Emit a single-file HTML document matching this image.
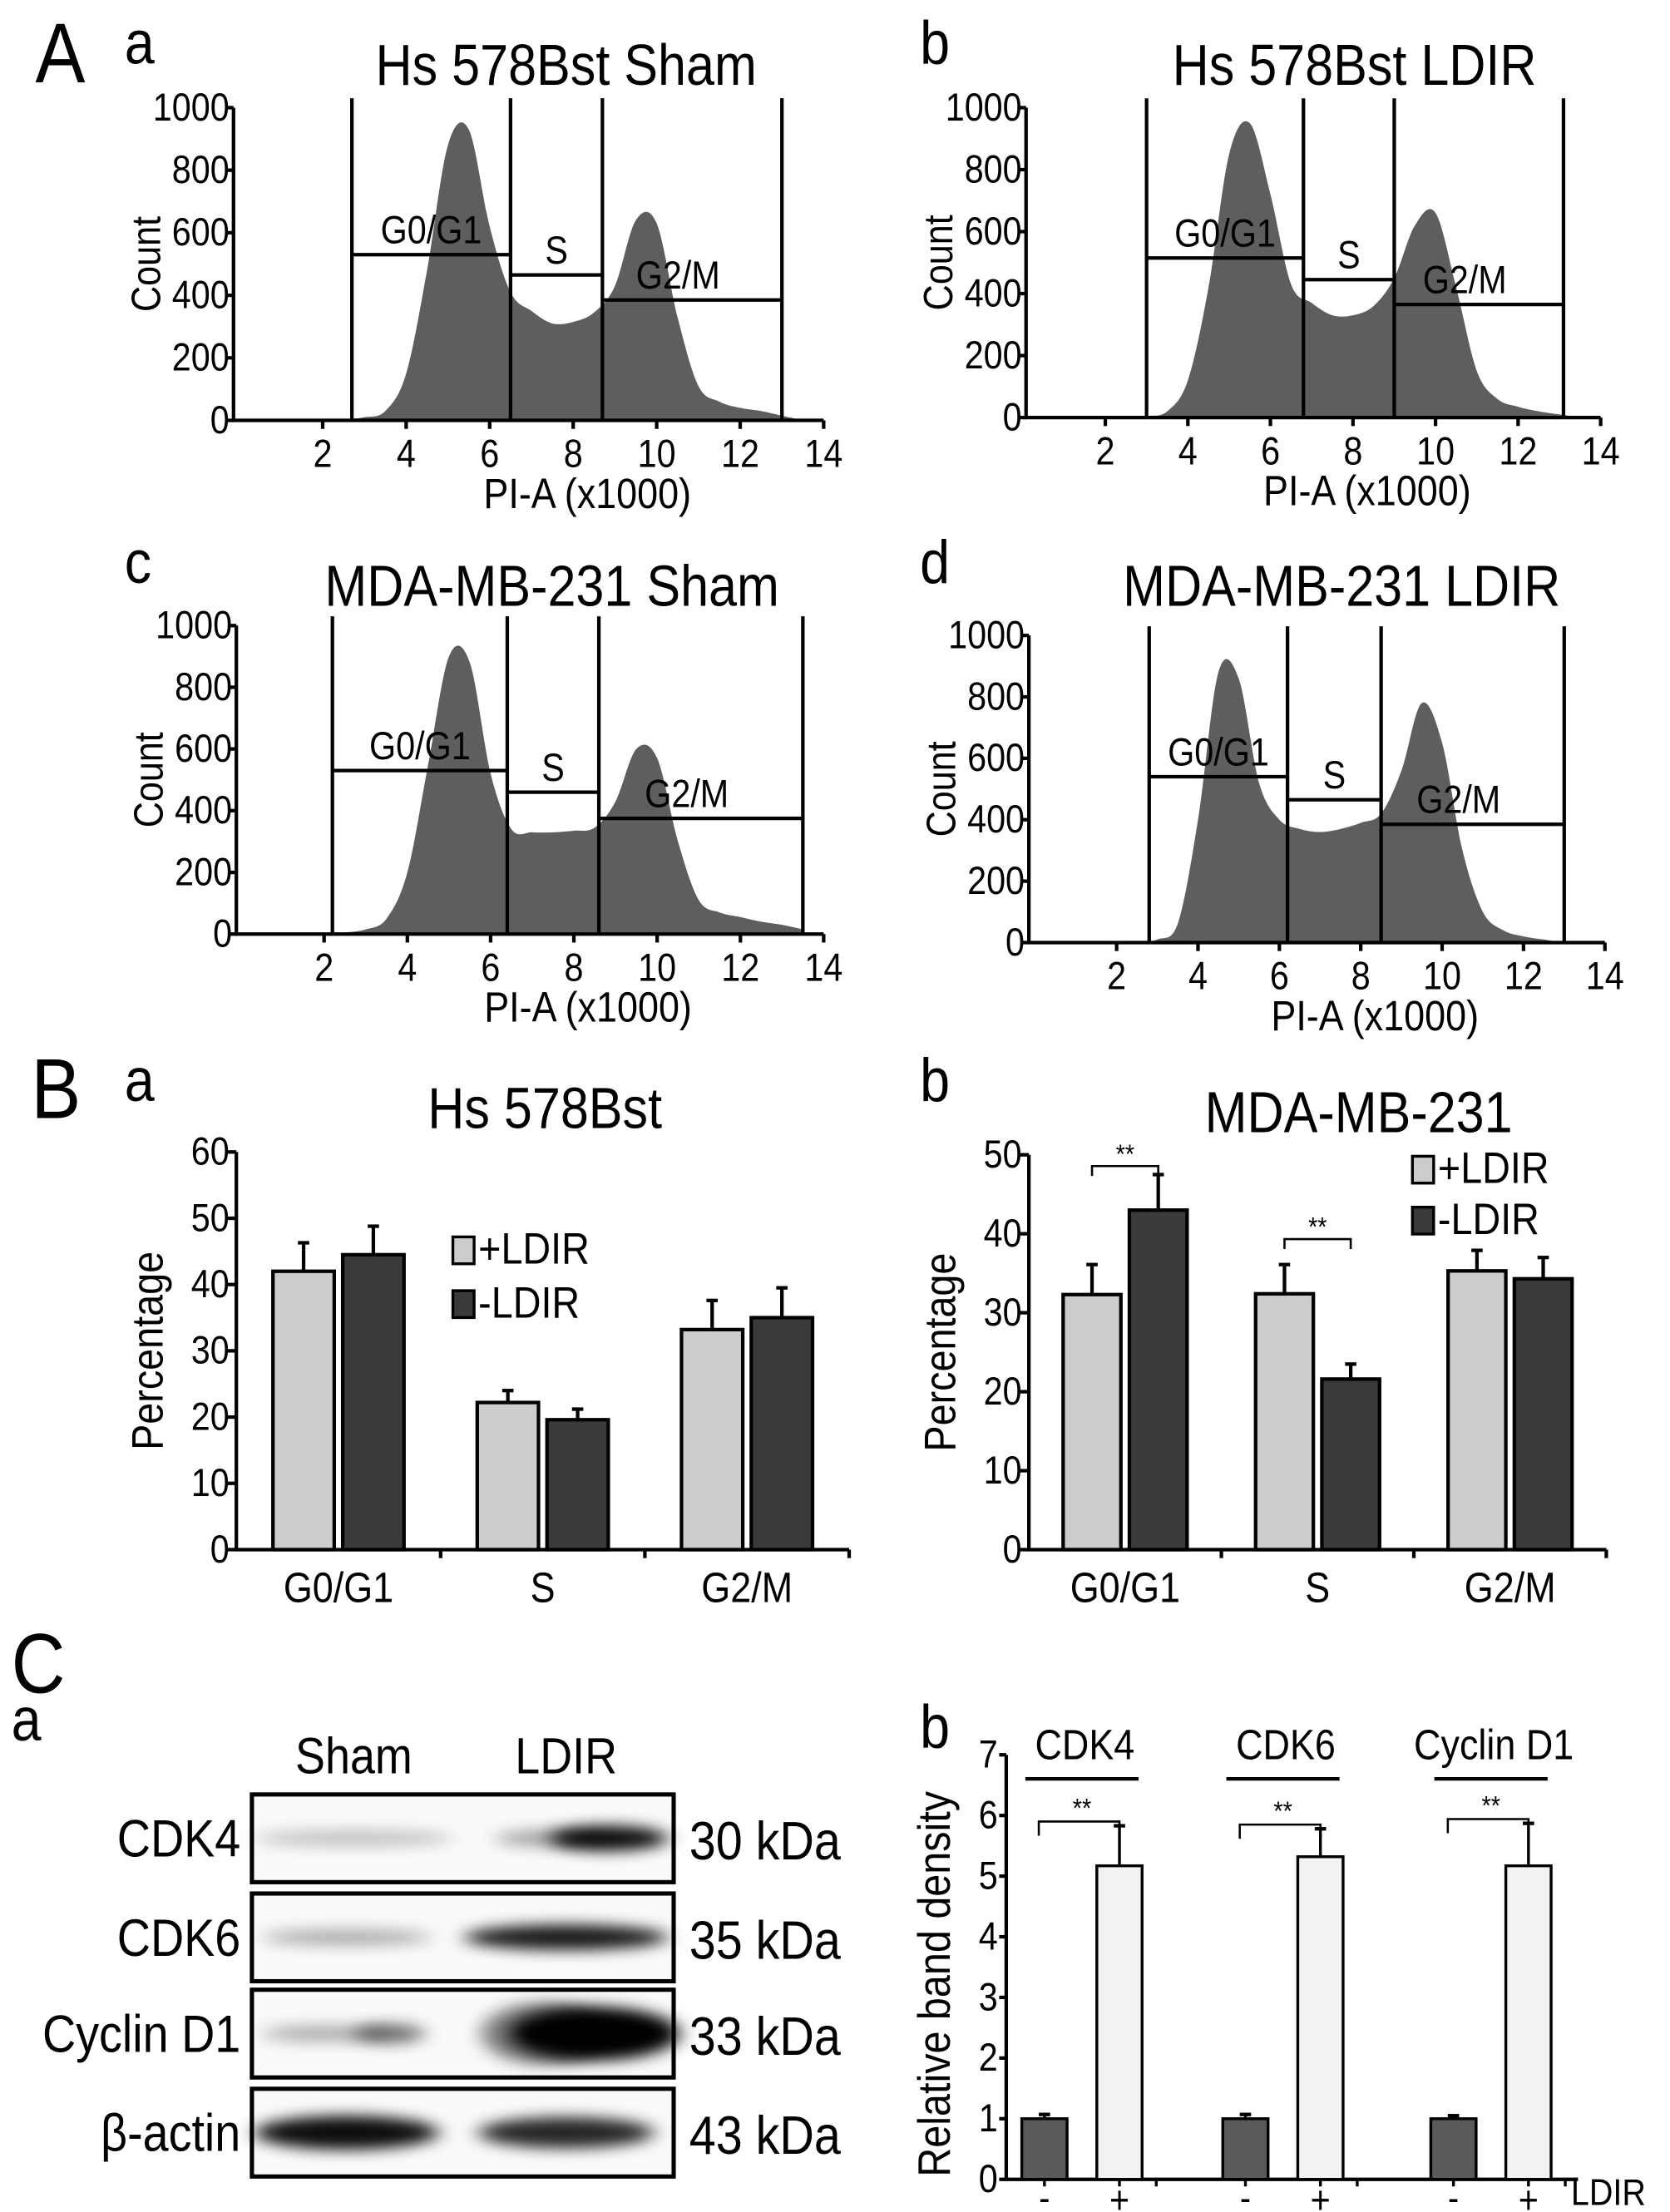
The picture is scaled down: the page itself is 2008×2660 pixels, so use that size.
<!DOCTYPE html>
<html><head><meta charset="utf-8"><style>
html,body{margin:0;padding:0;background:#fff}
svg{display:block}
text{font-family:"Liberation Sans",Arial,sans-serif;fill:#000}
</style></head><body>
<svg id="fig" width="2008" height="2660" viewBox="0 0 1180 1563" xmlns="http://www.w3.org/2000/svg">
<defs>
<filter id="blur" x="-30%" y="-100%" width="160%" height="300%"><feGaussianBlur stdDeviation="7 5"/></filter>
</defs>
<g id="root"></g>
</svg>
<script>
// ---------- Histogram data (PI-A x1000 vs Count) ----------
const piA = [2.5,3,3.5,4,4.5,5,5.5,6,6.5,7,7.5,8,8.5,9,9.5,10,10.5,11,11.5,12,12.5,13,13.5];
const countsHsSham  = [3,10,30,150,480,880,930,620,410,350,310,315,345,430,640,630,330,110,60,40,30,15,0];
const countsHsLdir  = [0,5,20,120,420,850,950,720,430,370,330,330,360,450,620,660,420,150,60,35,20,10,0];
const countsMdaSham = [5,15,50,200,550,900,880,520,340,330,330,335,345,430,600,570,300,110,70,55,40,30,15];
const countsMdaLdir = [0,10,60,400,880,860,520,400,370,360,370,390,420,560,780,650,300,100,40,20,10,0,0];
const histYTicks = [0,200,400,600,800,1000];
const histXTicks = [2,4,6,8,10,12,14];
const gatesHsSham = [2.7,6.5,8.7,13.0]; const gateLevelsHsSham=[530,465,385];
const gatesHsLdir = [3.0,6.8,9.0,13.1]; const gateLevelsHsLdir=[515,445,365];
const gatesMdaSham= [2.2,6.4,8.6,13.5]; const gateLevelsMdaSham=[530,460,375];
const gatesMdaLdir= [2.8,6.2,8.5,13.0]; const gateLevelsMdaLdir=[540,465,385];

// ---------- Bar chart B data ----------
const phases = ["G0/G1","S","G2/M"];
const hsPlus  = [42.0,22.2,33.2]; const hsPlusErr  = [4.3,1.8,4.4];
const hsMinus = [44.5,19.6,35.0]; const hsMinusErr = [4.3,1.6,4.5];
const hsTicks = [0,10,20,30,40,50,60];
const mdaPlus  = [32.3,32.4,35.3]; const mdaPlusErr  = [3.8,3.7,2.6];
const mdaMinus = [43.0,21.6,34.3]; const mdaMinusErr = [4.5,1.9,2.7];
const mdaTicks = [0,10,20,30,40,50];

// ---------- Band density data ----------
const proteins = ["CDK4","CDK6","Cyclin D1"];
const densMinus = [1.0,1.0,1.0]; const densMinusErr=[0.07,0.07,0.05];
const densPlus  = [5.17,5.32,5.17]; const densPlusErr=[0.66,0.46,0.70];
const densTicks = [0,1,2,3,4,5,6,7];

const NS="http://www.w3.org/2000/svg";
const root=document.getElementById('root');
const FS=1.2, SX=0.88;
function el(tag,attrs,parent){const e=document.createElementNS(NS,tag);for(const k in attrs)e.setAttribute(k,attrs[k]);(parent||root).appendChild(e);return e;}
function txt(s,x,y,size,anchor,parent,extra){
  let tr=`translate(${x},${y}) scale(${SX},1)`;
  if(extra&&extra.rot){tr=`translate(${x},${y}) rotate(-90) scale(${SX},1)`;}
  const t=el('text',{x:0,y:0,'font-size':size*FS,'text-anchor':anchor||'start',transform:tr},parent);t.textContent=s;return t;}

function histPanel(cfg){
  const g=el('g',{});
  
  
  const sx=v=>cfg.x0+(v-2)*(cfg.x14-cfg.x0)/12;
  const sy=v=>cfg.y0-v*(cfg.y0-cfg.y1000)/1000;
  const xs=piA, ys=cfg.counts;
  const P=xs.map((x,i)=>[sx(x),sy(ys[i])]);
  let d='M'+sx(Math.min(xs[0],cfg.gates[0]))+','+sy(0)+' L'+P[0][0]+','+P[0][1];
  for(let i=0;i<P.length-1;i++){
    const p0=P[i-1]||P[i],p1=P[i],p2=P[i+1],p3=P[i+2]||P[i+1];
    const c1=[p1[0]+(p2[0]-p0[0])/6,p1[1]+(p2[1]-p0[1])/6];
    const c2=[p2[0]-(p3[0]-p1[0])/6,p2[1]-(p3[1]-p1[1])/6];
    d+=' C'+c1[0]+','+Math.min(c1[1],sy(0))+' '+c2[0]+','+Math.min(c2[1],sy(0))+' '+p2[0]+','+p2[1];
  }
  d+=' L'+P[P.length-1][0]+','+sy(0)+' Z';
  const area=el('path',{d:d,fill:'#5e5e5e'},g);
  
  
  const ax=el('path',{d:`M${cfg.yx},${sy(1000)} L${cfg.yx},${sy(0)} L${sx(14)},${sy(0)}`,fill:'none',stroke:'#000','stroke-width':2.5},g);
  
  
  histYTicks.forEach(v=>{el('line',{x1:cfg.yx-5,x2:cfg.yx,y1:sy(v),y2:sy(v),stroke:'#000','stroke-width':2.5},g);
    const t=txt(String(v),cfg.yx-3,sy(v)+9,23,'end',g);});
  histXTicks.forEach(v=>{el('line',{x1:sx(v),x2:sx(v),y1:sy(0),y2:sy(0)+6,stroke:'#000','stroke-width':2.5},g);
    const t=txt(String(v),sx(v),sy(0)+33,23,'middle',g);});
  cfg.gates.forEach(v=>{const l=el('line',{x1:sx(v),x2:sx(v),y1:sy(1030),y2:sy(0),stroke:'#000','stroke-width':2.5},g);
    });
  cfg.levels.forEach((lv,i)=>{const l=el('line',{x1:sx(cfg.gates[i]),x2:sx(cfg.gates[i+1]),y1:sy(lv),y2:sy(lv),stroke:'#000','stroke-width':2.5},g);
    });
  const labs=['G0/G1','S','G2/M'];
  labs.forEach((s,i)=>{const cx=i==2?(sx(cfg.gates[2])+sx(cfg.gates[3]))/2-10:(sx(cfg.gates[i])+sx(cfg.gates[i+1]))/2;
    const t=txt(s,cx,sy(cfg.levels[i])-8,23,'middle',g);});
  const tt=txt(cfg.title,cfg.tx,cfg.ty,34,'middle',g);
  const xl=txt('PI-A (x1000)',(sx(2)+sx(14))/2+10,sy(0)+62,25,'middle',g);
  const yl=txt('Count',cfg.yx-52,(sy(0)+sy(1000))/2,24,'middle',g,{rot:1});
  const pl=txt(cfg.letter,cfg.lx,cfg.ly,36,'start',g);
}
histPanel({name:'histogram-hs-sham',counts:countsHsSham,gates:gatesHsSham,levels:gateLevelsHsSham,x0:228,x14:582,y0:297,y1000:76,yx:165,title:'Hs 578Bst Sham',tx:400,ty:60,letter:'a',lx:88,ly:45});
histPanel({name:'histogram-hs-ldir',counts:countsHsLdir,gates:gatesHsLdir,levels:gateLevelsHsLdir,x0:781,x14:1131,y0:295,y1000:76,yx:725,title:'Hs 578Bst LDIR',tx:957,ty:60,letter:'b',lx:650,ly:45});
histPanel({name:'histogram-mda-sham',counts:countsMdaSham,gates:gatesMdaSham,levels:gateLevelsMdaSham,x0:229,x14:582,y0:660,y1000:442,yx:167,title:'MDA-MB-231 Sham',tx:390,ty:428,letter:'c',lx:88,ly:412});
histPanel({name:'histogram-mda-ldir',counts:countsMdaLdir,gates:gatesMdaLdir,levels:gateLevelsMdaLdir,x0:789,x14:1134,y0:666,y1000:449,yx:727,title:'MDA-MB-231 LDIR',tx:948,ty:428,letter:'d',lx:650,ly:412});
const bigA=txt('A',25,58,50,'start');
const bigB=txt('B',22,790,50,'start');
const bigC=txt('C',8,1196,50,'start');

function barPanel(cfg){
  const g=el('g',{});
  
  
  const max=cfg.ticks[cfg.ticks.length-1];
  const sy=v=>cfg.y0-v*(cfg.y0-cfg.yTop)/max;
  const cw=(cfg.xEnd-cfg.yx)/3;
  el('path',{d:`M${cfg.yx},${sy(max)} L${cfg.yx},${sy(0)} L${cfg.xEnd},${sy(0)}`,fill:'none',stroke:'#000','stroke-width':2.5},g);
  cfg.ticks.forEach(v=>{el('line',{x1:cfg.yx-6,x2:cfg.yx,y1:sy(v),y2:sy(v),stroke:'#000','stroke-width':2.5},g);
    const t=txt(String(v),cfg.yx-5,sy(v)+9,23,'end',g);});
  for(let i=1;i<=3;i++)el('line',{x1:cfg.yx+cw*i,x2:cfg.yx+cw*i,y1:sy(0),y2:sy(0)+6,stroke:'#000','stroke-width':2.5},g);
  const bw=cw*0.3;
  phases.forEach((p,i)=>{
    const c=cfg.yx+cw*(i+0.5);
    [[cfg.plus,cfg.plusErr,'#cccccc',c-bw-3],[cfg.minus,cfg.minusErr,'#3a3a3a',c+3]].forEach(([vals,errs,col,x])=>{
      const v=vals[i],e=errs[i];
      el('line',{x1:x+bw/2,x2:x+bw/2,y1:sy(v),y2:sy(v+e),stroke:'#000','stroke-width':2.5},g);
      el('line',{x1:x+bw/2-4,x2:x+bw/2+4,y1:sy(v+e),y2:sy(v+e),stroke:'#000','stroke-width':2.5},g);
      const r=el('rect',{x:x,y:sy(v),width:bw,height:sy(0)-sy(v),fill:col,stroke:'#000','stroke-width':2.5},g);
      
      
    });
    const t=txt(p,c,sy(0)+37,25,'middle',g);
  });
  const tt=txt(cfg.title,cfg.tx,cfg.ty,34,'middle',g);
  const yl=txt('Percentage',cfg.yx-52,(sy(0)+sy(max))/2,26,'middle',g,{rot:1});
  [['+LDIR','#cccccc'],['-LDIR','#3a3a3a']].forEach(([s,c],k)=>{
    const ly=cfg.legY+k*cfg.legGap;
    const r=el('rect',{x:cfg.legX,y:ly-19,width:15,height:19,fill:c,stroke:'#000','stroke-width':2},g);
    
    const t=txt(s,cfg.legX+18,ly,26,'start',g);
  });
  const pl=txt(cfg.letter,cfg.lx,cfg.ly,36,'start',g);
  (cfg.sig||[]).forEach(i=>{
    const c=cfg.yx+cw*(i+0.5);const top=Math.max(cfg.plus[i]+cfg.plusErr[i],cfg.minus[i]+cfg.minusErr[i]);
    const y=sy(top)-(i==0?6:18);
    el('path',{d:`M${c-bw/2-3},${y+7} L${c-bw/2-3},${y} L${c+bw/2+3},${y} L${c+bw/2+3},${y+7}`,fill:'none',stroke:'#000','stroke-width':1.5},g);
    const t=txt('**',c,y-2,16,'middle',g);
  });
}
barPanel({name:'bar-chart-hs578bst',plus:hsPlus,plusErr:hsPlusErr,minus:hsMinus,minusErr:hsMinusErr,ticks:hsTicks,y0:1095,yTop:814,yx:167,xEnd:600,title:'Hs 578Bst',tx:385,ty:797,legX:320,legY:893,legGap:38,letter:'a',lx:88,ly:778});
barPanel({name:'bar-chart-mda-mb-231',plus:mdaPlus,plusErr:mdaPlusErr,minus:mdaMinus,minusErr:mdaMinusErr,ticks:mdaTicks,y0:1095,yTop:816,yx:727,xEnd:1135,title:'MDA-MB-231',tx:960,ty:800,legX:998,legY:836,legGap:36,letter:'b',lx:650,ly:778,sig:[0,1]});

(function(){
  const g=el('g',{});
  
  
  const pa=txt('a',8,1230,36,'start',g);
  const s1=txt('Sham',250,1253,30,'middle',g);
  const s2=txt('LDIR',400,1253,30,'middle',g);
  const rows=[['CDK4','30 kDa',1268,[[250,0.22,70,6],[390,0.35,40,6],[430,0.95,42,9]]],
              ['CDK6','35 kDa',1338,[[245,0.3,60,6],[400,0.9,72,9]]],
              ['Cyclin D1','33 kDa',1406,[[230,0.3,45,6],[275,0.55,25,7],[385,0.5,45,22],[420,1,60,19]]],
              ['β-actin','43 kDa',1476,[[245,0.95,65,12],[400,0.85,62,11]]]];
  rows.forEach(([name,kda,y,bands])=>{
    const r=el('rect',{x:178,y:y,width:298,height:62,fill:'#fafafa',stroke:'#000','stroke-width':3},g);
    
    
    bands.forEach(([cx,op,rx,ry])=>{const b=el('ellipse',{cx:cx,cy:y+31,rx:rx,ry:ry,fill:'#000','fill-opacity':op,filter:'url(#blur)'},g);
      });
    const t=txt(name,170,y+44,31,'end',g);
    const k=txt(kda,487,y+46,32,'start',g);
  });
})();

(function(){
  const g=el('g',{});
  
  
  const yx=711,y0=1540,yTop=1240,max=7;
  const sy=v=>y0-v*(y0-yTop)/max;
  const groupX=[738,880,1027];
  el('path',{d:`M${yx},${sy(max)} L${yx},${y0} L${1115},${y0}`,fill:'none',stroke:'#000','stroke-width':2.5},g);
  densTicks.forEach(v=>{el('line',{x1:yx-5,x2:yx,y1:sy(v),y2:sy(v),stroke:'#000','stroke-width':2.5},g);
    const t=txt(String(v),yx-6,sy(v)+9,23,'end',g);});
  const yl=txt('Relative band density',yx-40,(y0+yTop)/2+12,27,'middle',g,{rot:1});
  const pl=txt('b',650,1235,36,'start',g);
  proteins.forEach((p,i)=>{
    const xm=groupX[i],xp=xm+53,bw=32;
    [[densMinus,densMinusErr,'#5a5a5a',xm],[densPlus,densPlusErr,'#f2f2f2',xp]].forEach(([vals,errs,col,cx])=>{
      const v=vals[i],e=errs[i];
      el('line',{x1:cx,x2:cx,y1:sy(v),y2:sy(v+e),stroke:'#000','stroke-width':2},g);
      el('line',{x1:cx-4,x2:cx+4,y1:sy(v+e),y2:sy(v+e),stroke:'#000','stroke-width':2.5},g);
      const r=el('rect',{x:cx-bw/2,y:sy(v),width:bw,height:y0-sy(v),fill:col,stroke:'#000','stroke-width':2},g);
      
      
    });
    [xm,xp,xp+26].forEach(tx=>el('line',{x1:tx,x2:tx,y1:y0,y2:y0+5,stroke:'#000','stroke-width':2},g));
    const m=txt('-',xm,y0+22,22,'middle',g);
    const pp=txt('+',xp,y0+24,23,'middle',g);
    const cx=(xm+xp)/2;
    const t=txt(p,cx+2,1243,25,'middle',g);
    el('line',{x1:cx-40,x2:cx+40,y1:1257,y2:1257,stroke:'#000','stroke-width':2.5},g);
    const top=densPlus[i]+densPlusErr[i];const by=sy(top)-3;
    el('path',{d:`M${xm-4},${by+10} L${xm-4},${by} L${xp},${by} L${xp},${by+10}`,fill:'none',stroke:'#000','stroke-width':1.5},g);
    const s=txt('**',cx,by-3,16,'middle',g);
  });
  const l=txt('LDIR',1110,1558,22,'start',g);
})();
</script>
</body></html>
